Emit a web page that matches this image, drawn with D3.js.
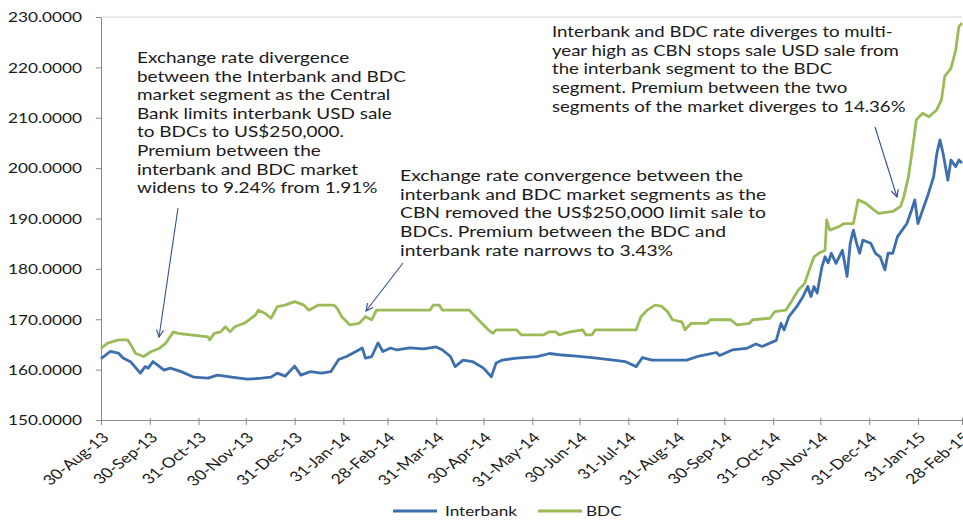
<!DOCTYPE html>
<html><head><meta charset="utf-8">
<script src="https://cdn.jsdelivr.net/npm/d3@7"></script>
<style>
body{margin:0;background:#fff}
svg{display:block}
text{font-family:Lato,"Open Sans",sans-serif;fill:#1a1a1a}
</style>
</head><body>
<svg id="c" width="963" height="521"></svg>
<script>
// ---------- data ----------
const seriesNames = ["Interbank", "BDC"];
const ibDates = ["2013-08-30","2013-09-05","2013-09-10","2013-09-13","2013-09-18","2013-09-24","2013-09-27","2013-09-29","2013-10-02","2013-10-05","2013-10-09","2013-10-13","2013-10-20","2013-10-28","2013-11-06","2013-11-12","2013-11-21","2013-12-01","2013-12-10","2013-12-16","2013-12-20","2013-12-25","2013-12-31","2014-01-04","2014-01-10","2014-01-17","2014-01-23","2014-01-28","2014-02-02","2014-02-08","2014-02-12","2014-02-14","2014-02-18","2014-02-22","2014-02-25","2014-03-02","2014-03-06","2014-03-14","2014-03-23","2014-03-31","2014-04-04","2014-04-09","2014-04-12","2014-04-17","2014-04-23","2014-04-30","2014-05-05","2014-05-08","2014-05-12","2014-05-21","2014-06-03","2014-06-11","2014-06-19","2014-06-28","2014-07-08","2014-07-19","2014-07-29","2014-08-05","2014-08-09","2014-08-15","2014-09-06","2014-09-14","2014-09-25","2014-09-27","2014-10-05","2014-10-14","2014-10-20","2014-10-24","2014-11-02","2014-11-05","2014-11-07","2014-11-10","2014-11-15","2014-11-19","2014-11-22","2014-11-24","2014-11-26","2014-11-28","2014-12-01","2014-12-03","2014-12-05","2014-12-07","2014-12-10","2014-12-14","2014-12-17","2014-12-19","2014-12-21","2014-12-23","2014-12-25","2014-12-27","2015-01-01","2015-01-04","2015-01-07","2015-01-10","2015-01-12","2015-01-15","2015-01-18","2015-01-21","2015-01-24","2015-01-27","2015-01-29","2015-01-31","2015-02-03","2015-02-06","2015-02-10","2015-02-12","2015-02-14","2015-02-16","2015-02-19","2015-02-21","2015-02-24","2015-02-26","2015-02-28"];
const ibValues = [162.2,163.6,163.3,162.3,161.5,159.3,160.6,160.3,161.6,160.9,159.9,160.3,159.6,158.5,158.3,158.9,158.5,158.1,158.3,158.5,159.3,158.7,160.7,158.9,159.6,159.3,159.6,162.0,162.6,163.6,164.3,162.3,162.6,165.3,163.6,164.3,163.9,164.3,164.1,164.5,163.9,162.6,160.6,161.9,161.6,160.3,158.6,161.3,161.9,162.3,162.6,163.2,162.9,162.7,162.4,162.0,161.6,160.6,162.4,161.9,161.9,162.7,163.4,162.8,163.9,164.2,165.1,164.6,165.8,169.2,167.9,170.5,172.5,174.5,176.5,174.5,176.5,175.2,180.4,182.4,181.2,183.1,181.1,183.7,178.5,185.1,187.7,185.1,183.1,185.7,185.1,183.1,182.4,179.8,183.1,183.1,186.4,187.7,189.0,191.7,193.7,189.0,191.7,194.3,198.3,202.9,205.6,202.9,197.6,201.6,200.3,201.6,201.0];
const bdcDates = ["2013-08-30","2013-09-03","2013-09-10","2013-09-16","2013-09-18","2013-09-21","2013-09-26","2013-10-01","2013-10-06","2013-10-10","2013-10-15","2013-10-18","2013-10-26","2013-11-06","2013-11-07","2013-11-10","2013-11-14","2013-11-17","2013-11-20","2013-11-23","2013-11-29","2013-12-06","2013-12-08","2013-12-12","2013-12-16","2013-12-20","2013-12-25","2013-12-31","2014-01-06","2014-01-09","2014-01-15","2014-01-25","2014-01-27","2014-01-30","2014-02-04","2014-02-10","2014-02-14","2014-02-18","2014-02-21","2014-03-27","2014-03-29","2014-04-02","2014-04-04","2014-04-21","2014-04-28","2014-05-03","2014-05-06","2014-05-08","2014-05-21","2014-05-24","2014-06-07","2014-06-11","2014-06-15","2014-06-17","2014-06-24","2014-07-02","2014-07-04","2014-07-08","2014-07-10","2014-08-05","2014-08-08","2014-08-12","2014-08-17","2014-08-21","2014-08-25","2014-08-28","2014-09-03","2014-09-05","2014-09-09","2014-09-19","2014-09-21","2014-10-04","2014-10-08","2014-10-16","2014-10-18","2014-10-29","2014-11-01","2014-11-08","2014-11-11","2014-11-16","2014-11-20","2014-11-23","2014-11-26","2014-11-29","2014-12-03","2014-12-04","2014-12-06","2014-12-12","2014-12-15","2014-12-21","2014-12-24","2014-12-29","2015-01-03","2015-01-06","2015-01-15","2015-01-20","2015-01-22","2015-01-25","2015-01-28","2015-01-30","2015-02-03","2015-02-07","2015-02-12","2015-02-15","2015-02-17","2015-02-21","2015-02-24","2015-02-26","2015-02-28"];
const bdcValues = [164.2,165.2,165.9,165.9,164.9,163.2,162.6,163.6,164.2,165.2,167.5,167.2,166.9,166.5,165.9,167.2,167.5,168.5,167.5,168.5,169.2,170.8,171.8,171.2,170.2,172.5,172.8,173.5,172.8,171.8,172.8,172.8,172.2,170.5,168.9,169.2,170.5,169.9,171.8,171.8,172.8,172.8,171.8,171.8,169.5,167.9,167.2,167.9,167.9,166.9,166.9,167.5,167.5,166.9,167.5,167.9,166.9,166.9,167.9,167.9,170.5,171.8,172.8,172.6,171.5,169.9,169.5,167.9,169.2,169.2,169.9,169.9,168.9,169.2,169.9,170.2,171.5,171.8,173.2,175.8,177.1,179.8,182.4,183.1,183.7,189.7,187.7,188.4,189.0,189.0,193.7,193.0,191.7,191.0,191.4,192.4,194.3,198.3,204.9,209.6,210.9,210.2,211.6,213.6,218.2,219.8,223.4,228.1,228.8];
const yTicks = [150,160,170,180,190,200,210,220,230];
const xTickLabels = ["30-Aug-13","30-Sep-13","31-Oct-13","30-Nov-13","31-Dec-13","31-Jan-14","28-Feb-14","31-Mar-14","30-Apr-14","31-May-14","30-Jun-14","31-Jul-14","31-Aug-14","30-Sep-14","31-Oct-14","30-Nov-14","31-Dec-14","31-Jan-15","28-Feb-15"];
const note1 = ["Exchange rate divergence","between the Interbank and BDC","market segment as the Central","Bank limits interbank USD sale","to BDCs to US$250,000.","Premium between the","interbank and BDC market","widens to 9.24% from 1.91%"];
const note2 = ["Exchange rate convergence between the","interbank and BDC market segments as the","CBN removed the US$250,000 limit sale to","BDCs. Premium between the BDC and","interbank rate narrows to 3.43%"];
const note3 = ["Interbank and BDC rate diverges to multi-","year high as CBN stops sale USD sale from","the interbank segment to the BDC","segment.  Premium between the two","segments of the market diverges to 14.36%"];

// ---------- layout / style ----------
const SX = 1.25;                  // horizontal stretch of the source picture
const colors = {Interbank:"#3d6fae", BDC:"#9bbb59"};
const L = {left:101, right:962, top:17, bottom:420};
const svg = d3.select("#c");
const parseISO = d3.timeParse("%Y-%m-%d");
const parseTick = d3.timeParse("%d-%b-%y");
const tickDates = xTickLabels.map(parseTick);

function fitSize(sample, target, sx){
  const t = svg.append("text").attr("font-size", 20).text(sample);
  const w = t.node().getComputedTextLength();
  t.remove();
  return 20 * target / (w * sx);
}

const x = d3.scaleTime().domain([tickDates[0], tickDates[tickDates.length-1]]).range([L.left, L.right]);
const y = d3.scaleLinear().domain([150,230]).range([L.bottom, L.top]);

// top border
svg.append("line").attr("x1",L.left).attr("x2",L.right).attr("y1",y(230)).attr("y2",y(230))
  .attr("stroke","#d4d4d4").attr("stroke-width",1);

// y axis
const yFs = fitSize("230.0000", 74, SX);
const gy = svg.append("g").attr("transform",`translate(${L.left},0)`)
  .call(d3.axisLeft(y).tickValues(yTicks).tickFormat(d3.format(".4f")).tickSize(5).tickSizeOuter(0).tickPadding(14));
gy.select(".domain").attr("stroke","#8a8a8a");
gy.selectAll(".tick line").attr("stroke","#8a8a8a");
gy.selectAll(".tick text").attr("font-family",null).attr("font-size",null)
  .style("font-size",yFs+"px").attr("x",-19/SX).attr("transform",`scale(${SX},1)`).attr("dy","0.35em");

// x axis
const xFs = fitSize("30-Sep-13", 66, 1);
const gx = svg.append("g").attr("transform",`translate(0,${L.bottom})`)
  .call(d3.axisBottom(x).tickValues(tickDates).tickFormat((d,i)=>xTickLabels[i]).tickSize(5).tickSizeOuter(0));
gx.select(".domain").attr("stroke","#8a8a8a");
gx.selectAll(".tick line").attr("stroke","#8a8a8a").attr("y1",-2);
gx.selectAll(".tick text").attr("font-family",null).attr("font-size",null)
  .style("font-size",xFs+"px").attr("y",0).attr("dy","0.35em").attr("text-anchor","end")
  .attr("transform",`translate(4,15) scale(${SX},1) rotate(-45)`);

// lines
const line = d3.line().x(d=>x(d.date)).y(d=>y(d.value)).curve(d3.curveLinear);
const ibData = ibDates.map((d,i)=>({date:parseISO(d), value:ibValues[i]}));
const bdcData = bdcDates.map((d,i)=>({date:parseISO(d), value:bdcValues[i]}));
svg.append("path").datum(bdcData).attr("d",line).attr("fill","none")
  .attr("stroke",colors.BDC).attr("stroke-width",2.8).attr("stroke-linejoin","round");
svg.append("path").datum(ibData).attr("d",line).attr("fill","none")
  .attr("stroke",colors.Interbank).attr("stroke-width",2.8).attr("stroke-linejoin","round");

// annotations
function note(lines, sample, width, x0, y0, lh){
  const fs = fitSize(sample, width, SX);
  const g = svg.append("g");
  lines.forEach((t,i)=>{
    g.append("text").attr("transform",`translate(${x0},${y0+i*lh}) scale(${SX},1)`)
      .style("font-size",fs+"px").text(t);
  });
}
note(note1, note1[1], 269, 137, 63, 18.6);
note(note2, note2[0], 343, 400, 181, 18.7);
note(note3, note3[0], 341, 552, 37, 18.7);

// arrows
svg.append("defs").append("marker").attr("id","arr").attr("viewBox","0 0 10 10")
  .attr("refX",9).attr("refY",5).attr("markerWidth",9).attr("markerHeight",9)
  .attr("orient","auto").attr("markerUnits","userSpaceOnUse")
  .append("path").attr("d","M1,1 L9,5 L1,9").attr("fill","none").attr("stroke","#34508f").attr("stroke-width",1.3);
const arrows = [[178,208,159,337],[403,263,366,311],[875,127,897,197]];
arrows.forEach(a=>{
  svg.append("line").attr("x1",a[0]).attr("y1",a[1]).attr("x2",a[2]).attr("y2",a[3])
    .attr("stroke","#34508f").attr("stroke-width",1.1).attr("marker-end","url(#arr)");
});

// legend
const lgFs = fitSize("Interbank", 72, SX);
const legX = [393, 538];
seriesNames.forEach((n,i)=>{
  const g = svg.append("g").attr("transform",`translate(${legX[i]},511)`);
  g.append("line").attr("x1",0).attr("x2",44).attr("y1",0).attr("y2",0)
    .attr("stroke",colors[n]).attr("stroke-width",2.8);
  g.append("text").attr("transform",`translate(${i===0?52:48},0) scale(${SX},1)`)
    .attr("dy","0.35em").style("font-size",lgFs+"px").text(n);
});
</script>
</body></html>
